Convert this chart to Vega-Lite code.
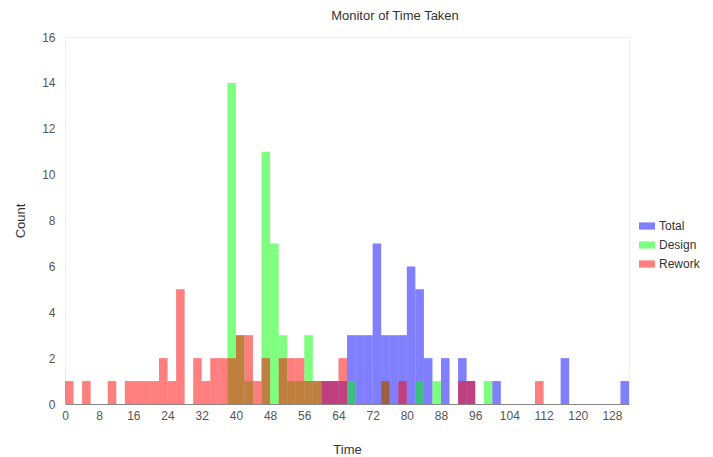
{
  "$schema": "https://vega.github.io/schema/vega-lite/v6.json",
  "width": 564,
  "height": 367,
  "autosize": {"type": "none"},
  "padding": {"left": 65, "top": 37, "right": 84, "bottom": 53},
  "background": "white",
  "title": {"text": "Monitor of Time Taken", "fontSize": 13, "fontWeight": "normal", "color": "#333333", "font": "Liberation Sans", "anchor": "middle", "dx": 48, "offset": 8},
  "config": {"view": {"stroke": "#eeeeee"}, "font": "Liberation Sans"},
  "data": {"values": [
    {"series": "Total", "start": 60, "end": 62, "count": 1},
    {"series": "Total", "start": 62, "end": 64, "count": 1},
    {"series": "Total", "start": 64, "end": 66, "count": 1},
    {"series": "Total", "start": 66, "end": 68, "count": 3},
    {"series": "Total", "start": 68, "end": 70, "count": 3},
    {"series": "Total", "start": 70, "end": 72, "count": 3},
    {"series": "Total", "start": 72, "end": 74, "count": 7},
    {"series": "Total", "start": 74, "end": 76, "count": 3},
    {"series": "Total", "start": 76, "end": 78, "count": 3},
    {"series": "Total", "start": 78, "end": 80, "count": 3},
    {"series": "Total", "start": 80, "end": 82, "count": 6},
    {"series": "Total", "start": 82, "end": 84, "count": 5},
    {"series": "Total", "start": 84, "end": 86, "count": 2},
    {"series": "Total", "start": 88, "end": 90, "count": 2},
    {"series": "Total", "start": 92, "end": 94, "count": 2},
    {"series": "Total", "start": 94, "end": 96, "count": 1},
    {"series": "Total", "start": 100, "end": 102, "count": 1},
    {"series": "Total", "start": 116, "end": 118, "count": 2},
    {"series": "Total", "start": 130, "end": 132, "count": 1},
    {"series": "Design", "start": 38, "end": 40, "count": 14},
    {"series": "Design", "start": 40, "end": 42, "count": 3},
    {"series": "Design", "start": 42, "end": 44, "count": 1},
    {"series": "Design", "start": 46, "end": 48, "count": 11},
    {"series": "Design", "start": 48, "end": 50, "count": 7},
    {"series": "Design", "start": 50, "end": 52, "count": 3},
    {"series": "Design", "start": 52, "end": 54, "count": 1},
    {"series": "Design", "start": 54, "end": 56, "count": 1},
    {"series": "Design", "start": 56, "end": 58, "count": 3},
    {"series": "Design", "start": 58, "end": 60, "count": 1},
    {"series": "Design", "start": 66, "end": 68, "count": 1},
    {"series": "Design", "start": 74, "end": 76, "count": 1},
    {"series": "Design", "start": 82, "end": 84, "count": 1},
    {"series": "Design", "start": 86, "end": 88, "count": 1},
    {"series": "Design", "start": 98, "end": 100, "count": 1},
    {"series": "Rework", "start": 0, "end": 2, "count": 1},
    {"series": "Rework", "start": 4, "end": 6, "count": 1},
    {"series": "Rework", "start": 10, "end": 12, "count": 1},
    {"series": "Rework", "start": 14, "end": 16, "count": 1},
    {"series": "Rework", "start": 16, "end": 18, "count": 1},
    {"series": "Rework", "start": 18, "end": 20, "count": 1},
    {"series": "Rework", "start": 20, "end": 22, "count": 1},
    {"series": "Rework", "start": 22, "end": 24, "count": 2},
    {"series": "Rework", "start": 24, "end": 26, "count": 1},
    {"series": "Rework", "start": 26, "end": 28, "count": 5},
    {"series": "Rework", "start": 30, "end": 32, "count": 2},
    {"series": "Rework", "start": 32, "end": 34, "count": 1},
    {"series": "Rework", "start": 34, "end": 36, "count": 2},
    {"series": "Rework", "start": 36, "end": 38, "count": 2},
    {"series": "Rework", "start": 38, "end": 40, "count": 2},
    {"series": "Rework", "start": 40, "end": 42, "count": 3},
    {"series": "Rework", "start": 42, "end": 44, "count": 3},
    {"series": "Rework", "start": 44, "end": 46, "count": 1},
    {"series": "Rework", "start": 46, "end": 48, "count": 2},
    {"series": "Rework", "start": 50, "end": 52, "count": 2},
    {"series": "Rework", "start": 52, "end": 54, "count": 2},
    {"series": "Rework", "start": 54, "end": 56, "count": 2},
    {"series": "Rework", "start": 56, "end": 58, "count": 1},
    {"series": "Rework", "start": 58, "end": 60, "count": 1},
    {"series": "Rework", "start": 60, "end": 62, "count": 1},
    {"series": "Rework", "start": 62, "end": 64, "count": 1},
    {"series": "Rework", "start": 64, "end": 66, "count": 2},
    {"series": "Rework", "start": 74, "end": 76, "count": 1},
    {"series": "Rework", "start": 78, "end": 80, "count": 1},
    {"series": "Rework", "start": 92, "end": 94, "count": 1},
    {"series": "Rework", "start": 94, "end": 96, "count": 1},
    {"series": "Rework", "start": 110, "end": 112, "count": 1}
  ]},
  "mark": {"type": "bar", "opacity": 0.5, "strokeWidth": 0},
  "encoding": {
    "x": {"field": "start", "type": "quantitative", "scale": {"domain": [0, 132], "nice": false, "zero": false},
      "axis": {"title": "Time", "values": [0, 8, 16, 24, 32, 40, 48, 56, 64, 72, 80, 88, 96, 104, 112, 120, 128], "grid": false, "ticks": false, "domainColor": "#888888", "labelColor": "#555555", "labelFontSize": 12, "labelPadding": 6, "titleFontSize": 13, "titleFontWeight": "normal", "titleColor": "#333333", "titlePadding": 22, "labelFlush": false}},
    "x2": {"field": "end"},
    "y": {"field": "count", "type": "quantitative", "stack": null, "scale": {"domain": [0, 16], "nice": false},
      "axis": {"title": "Count", "values": [0, 2, 4, 6, 8, 10, 12, 14, 16], "grid": false, "ticks": false, "domain": false, "labelColor": "#555555", "labelFontSize": 12, "labelPadding": 10, "titleFontSize": 13, "titleFontWeight": "normal", "titleColor": "#333333", "titlePadding": 14}},
    "y2": {"datum": 0},
    "color": {"field": "series", "type": "nominal", "sort": ["Total", "Design", "Rework"],
      "scale": {"domain": ["Total", "Design", "Rework"], "range": ["#0000ff", "#00ff00", "#ff0000"]},
      "legend": {"title": null, "orient": "none", "legendX": 573, "legendY": 180, "symbolType": "M-1,-0.45H1V0.45H-1Z", "symbolSize": 256, "symbolOpacity": 0.5, "labelFontSize": 12, "labelColor": "#333333", "rowPadding": 4, "labelOffset": 3}}
  }
}
